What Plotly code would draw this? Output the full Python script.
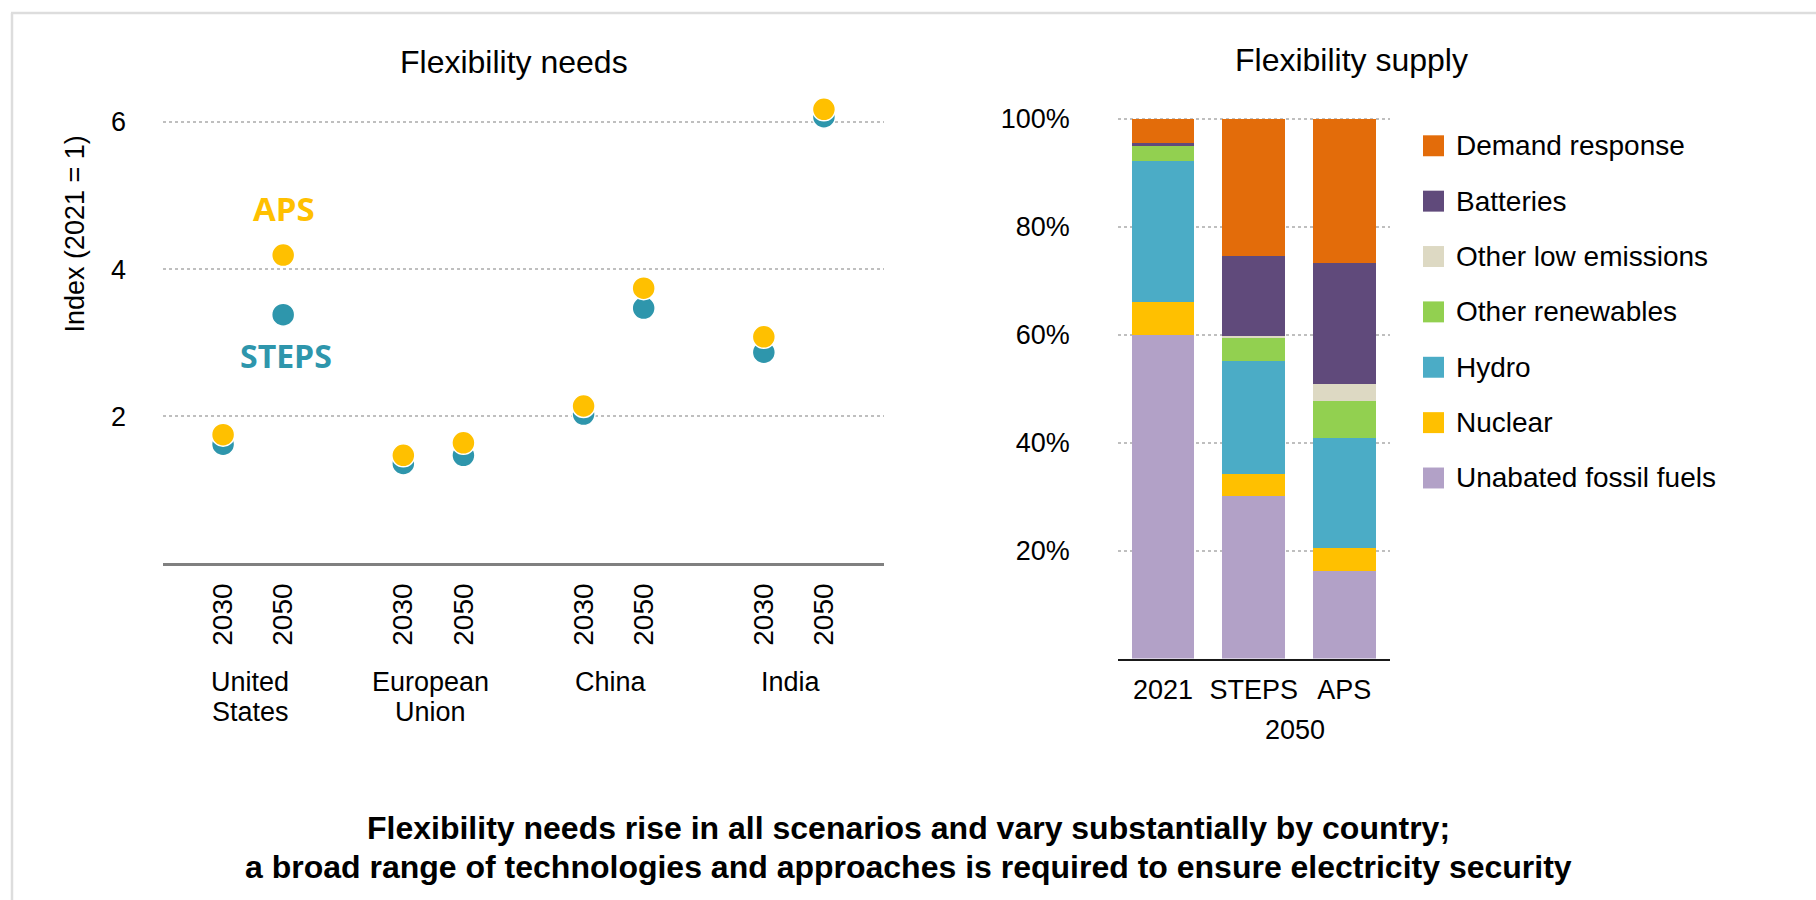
import plotly.graph_objects as go

# ---------------- data ----------------
regions = ["United<br>States", "European<br>Union", "China", "India"]
years = ["2030", "2050"]
steps_needs = [1.62, 3.38, 1.36, 1.47, 2.03, 3.47, 2.87, 6.07]
aps_needs = [1.75, 4.19, 1.47, 1.64, 2.14, 3.74, 3.08, 6.17]
needs_ticks = [2, 4, 6]

supply_cats = ["2021", "STEPS", "APS"]
supply_names = ["Unabated fossil fuels", "Nuclear", "Hydro", "Other renewables",
                "Other low emissions", "Batteries", "Demand response"]
supply_values = {
    "Unabated fossil fuels": [0.600, 0.301, 0.163],
    "Nuclear": [0.060, 0.041, 0.041],
    "Hydro": [0.261, 0.209, 0.205],
    "Other renewables": [0.029, 0.043, 0.069],
    "Other low emissions": [0.000, 0.004, 0.030],
    "Batteries": [0.006, 0.148, 0.225],
    "Demand response": [0.044, 0.254, 0.267],
}
supply_colors = {
    "Unabated fossil fuels": "#B2A1C7",
    "Nuclear": "#FFC000",
    "Hydro": "#4BACC6",
    "Other renewables": "#92D050",
    "Other low emissions": "#DDD9C3",
    "Batteries": "#604A7B",
    "Demand response": "#E36C0A",
}
supply_ticks = [0.2, 0.4, 0.6, 0.8, 1.0]

# ---------------- layout helpers ----------------
W, H = 1816, 900
# the rendered page shows the figure slightly shifted/compressed vertically;
# compensate so that target pixel rows land where intended
V_OFF, V_SCALE = 9.9, 0.989

def px(x):
    return x / W

def py(y):
    ys = (y - V_OFF) / V_SCALE
    ys = min(max(ys, 1.0), H)
    return 1 - ys / H

FONT = "Liberation Sans, Arial, sans-serif"
TEAL = "#2E96AC"
GOLD = "#FFC000"

fig = go.Figure()

# positions of the points: groups of 2 with a gap
xpos = [3 * i + j for i in range(len(regions)) for j in range(len(years))]
xlabels = [y for _ in regions for y in years]

fig.add_trace(go.Scatter(
    x=xpos, y=steps_needs, mode="markers", name="STEPS", showlegend=False,
    marker=dict(size=23, color=TEAL, line=dict(color="white", width=1.5)),
    xaxis="x", yaxis="y"))
fig.add_trace(go.Scatter(
    x=xpos, y=aps_needs, mode="markers", name="APS", showlegend=False,
    marker=dict(size=23, color=GOLD, line=dict(color="white", width=1.5)),
    xaxis="x", yaxis="y"))

for name in supply_names:
    fig.add_trace(go.Bar(
        x=supply_cats, y=supply_values[name], name=name, showlegend=False,
        marker=dict(color=supply_colors[name], line=dict(width=0)),
        xaxis="x2", yaxis="y2"))

annotations = []
shapes = []

# panel titles
annotations.append(dict(text="Flexibility needs", x=px(513.5), y=py(60.5), xref="paper", yref="paper",
                        showarrow=False, xanchor="center", yanchor="middle",
                        font=dict(size=32, color="#000000", family=FONT)))
annotations.append(dict(text="Flexibility supply", x=px(1351), y=py(58.5), xref="paper", yref="paper",
                        showarrow=False, xanchor="center", yanchor="middle",
                        font=dict(size=32, color="#000000", family=FONT)))

# y-axis title (left)
annotations.append(dict(text="Index (2021 = 1)", x=px(75), y=py(233), xref="paper", yref="paper",
                        showarrow=False, textangle=-90, xanchor="center", yanchor="middle",
                        font=dict(size=27, color="#000000", family=FONT)))

# scenario labels
annotations.append(dict(text="<b>APS</b>", x=1.02, y=4.82, xref="x", yref="y", showarrow=False,
                        xanchor="center", yanchor="middle",
                        font=dict(size=33, color=GOLD, family="Open Sans, sans-serif")))
annotations.append(dict(text="<b>STEPS</b>", x=1.05, y=2.83, xref="x", yref="y", showarrow=False,
                        xanchor="center", yanchor="middle",
                        font=dict(size=32, color=TEAL, family="Open Sans, sans-serif")))

# region labels (one annotation per text line, 31 px apart)
for i, r in enumerate(regions):
    for k, line in enumerate(r.split("<br>")):
        annotations.append(dict(text=line, x=3 * i + 0.45, y=py(681 + 31 * k), xref="x", yref="paper",
                                showarrow=False, xanchor="center", yanchor="middle",
                                font=dict(size=27, color="#000000", family=FONT)))

# 2050 label under STEPS / APS
annotations.append(dict(text="2050", x=1.45, y=py(730), xref="x2", yref="paper", showarrow=False,
                        xanchor="center", yanchor="middle",
                        font=dict(size=27, color="#000000", family=FONT)))

# manual legend (top to bottom: reverse of stacking order)
leg_x0, leg_y0, leg_dy, sq = 1423, 144, 55.5, 21
for k, name in enumerate(reversed(supply_names)):
    cy = leg_y0 + k * leg_dy
    shapes.append(dict(type="rect", xref="paper", yref="paper",
                       x0=px(leg_x0), x1=px(leg_x0 + sq), y0=py(cy + sq / 2), y1=py(cy - sq / 2),
                       fillcolor=supply_colors[name], line=dict(width=0)))
    annotations.append(dict(text=name, x=px(leg_x0 + sq + 10), y=py(cy), xref="paper", yref="paper",
                            showarrow=False, xanchor="left", yanchor="middle",
                            font=dict(size=28, color="#000000", family=FONT)))

# caption
annotations.append(dict(
    text="<b>Flexibility needs rise in all scenarios and vary substantially by country;</b>",
    x=px(908), y=py(828), xref="paper", yref="paper", showarrow=False,
    xanchor="center", yanchor="middle", font=dict(size=32, color="#000000", family=FONT)))
annotations.append(dict(
    text="<b>a broad range of technologies and approaches is required to ensure electricity security</b>",
    x=px(908), y=py(867), xref="paper", yref="paper", showarrow=False,
    xanchor="center", yanchor="middle", font=dict(size=32, color="#000000", family=FONT)))

# frame (left and top light grey lines)
shapes.append(dict(type="line", xref="paper", yref="paper", x0=px(12), x1=px(12), y0=0, y1=py(8.5),
                   line=dict(color="#DDDDDD", width=2.5)))
shapes.append(dict(type="line", xref="paper", yref="paper", x0=px(11), x1=1, y0=py(8.5), y1=py(8.5),
                   line=dict(color="#DDDDDD", width=2.5)))

fig.update_layout(
    width=W, height=H,
    margin=dict(l=0, r=0, t=0, b=0),
    paper_bgcolor="white", plot_bgcolor="white",
    font=dict(family=FONT, size=27, color="#000000"),
    barmode="stack", bargap=0.31,
    showlegend=False,
    xaxis=dict(domain=[px(163), px(884)], range=[-1, 11], tickmode="array", anchor="y",
               tickvals=xpos, ticktext=xlabels, tickangle=-90, showgrid=False, zeroline=False,
               showline=True, linecolor="#808080", linewidth=2.5, ticks="",
               ticklabelstandoff=6, tickfont=dict(size=28, family=FONT, color="#000000")),
    yaxis=dict(domain=[py(562.7), py(90.5)], range=[0, 6.4], tickmode="array", tickvals=needs_ticks,
               anchor="x", showgrid=True, gridcolor="#BFBFBF", gridwidth=2, griddash="dot",
               zeroline=False, showline=False, ticks="", ticklabelstandoff=36,
               tickfont=dict(size=27, family=FONT, color="#000000")),
    xaxis2=dict(domain=[px(1117.7), px(1389.7)], range=[-0.5, 2.5], type="category", anchor="y2",
                showgrid=False, zeroline=False, showline=True, linecolor="#1A1A1A", linewidth=1.5,
                ticks="", ticklabelstandoff=6, tickfont=dict(size=27, family=FONT, color="#000000")),
    yaxis2=dict(domain=[py(658), py(114.2)], range=[0, 1.005], tickmode="array", anchor="x2",
                tickvals=supply_ticks, tickformat=".0%", showgrid=True, gridcolor="#BFBFBF",
                gridwidth=2, griddash="dot", zeroline=False, showline=False, ticks="",
                ticklabelstandoff=47, tickfont=dict(size=27, family=FONT, color="#000000")),
    annotations=annotations,
    shapes=shapes,
)

fig.write_html("out.html")
